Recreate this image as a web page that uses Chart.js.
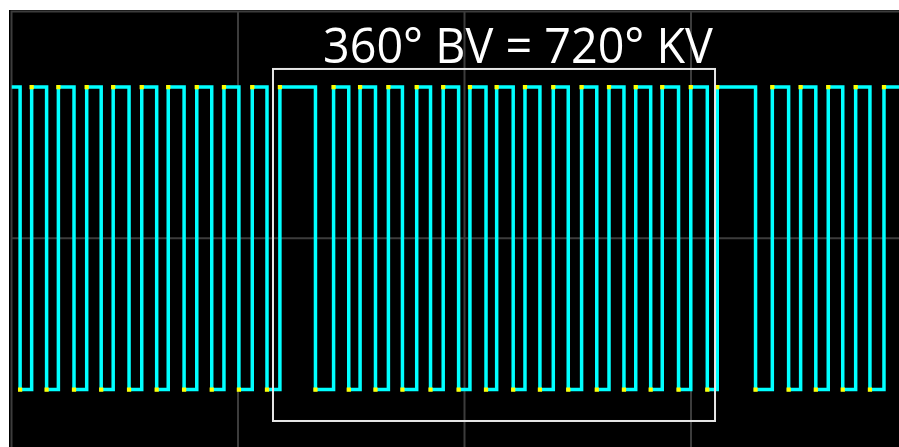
<!DOCTYPE html>
<html>
<head>
<meta charset="utf-8">
<script src="https://cdn.jsdelivr.net/npm/chart.js@4/dist/chart.umd.min.js"></script>
<style>
  html, body { margin: 0; padding: 0; background: #ffffff; overflow: hidden; }
  #wrap { position: absolute; left: 0; top: 0; width: 899px; height: 447px; }
  canvas { display: block; }
</style>
</head>
<body>
<div id="wrap"><canvas id="c" width="899" height="447"></canvas></div>
<script>
// Edge times (scope time units, 100 per grid division) and signal level after each edge
const edgeTimes = [0, 3.8, 8.9, 15.5, 20.7, 27.6, 33.2, 39.6, 44.9, 51.9,
  57.5, 64.1, 69.2, 76.2, 81.8, 88.4, 93.8, 100.4, 106.3, 112.8,
  118.5, 134.2, 142.2, 148.9, 153.9, 160.7, 166.4, 172.6, 178.9, 185.0,
  190.6, 197.4, 202.4, 209.5, 214.2, 221.5, 226.7, 233.3, 239.2, 245.8,
  251.7, 258.4, 263.8, 270.4, 275.6, 282.2, 287.3, 294.5, 299.9, 307.2,
  311.6, 328.5, 335.9, 343.1, 348.4, 355.1, 360.6, 367.0, 372.7, 379.0,
  385.2, 393];
const edgeLevels = [1, 0, 1, 0, 1, 0, 1, 0, 1, 0,
  1, 0, 1, 0, 1, 0, 1, 0, 1, 0,
  1, 0, 1, 0, 1, 0, 1, 0, 1, 0,
  1, 0, 1, 0, 1, 0, 1, 0, 1, 0,
  1, 0, 1, 0, 1, 0, 1, 0, 1, 0,
  1, 0, 1, 0, 1, 0, 1, 0, 1, 0,
  1, 1];
// Axis ranges and grid ticks
const xRange = [0, 391.83];
const yRange = [-0.19, 1.25];
const xGridTicks = [0, 100, 200, 300];
const yGridTicks = [0.5, 1.25];
// Marked window (one camshaft revolution) and its label
const windowX = [115.45, 310.6];
const windowY = [-0.104, 1.06];
const windowLabel = "360° BV = 720° KV";
const labelAt = [223.6, 1.0797];

const points = edgeTimes.map((t, i) => ({ x: t, y: edgeLevels[i] }));

const scopePlugin = {
  id: 'scope',
  beforeDraw(chart) {
    const ctx = chart.ctx;
    ctx.save();
    ctx.fillStyle = '#000000';
    ctx.fillRect(9, 10, chart.width - 9, chart.height - 10);
    ctx.restore();
  },
  beforeDatasetsDraw(chart) {
    const ctx = chart.ctx;
    const xs = chart.scales.x, ys = chart.scales.y;
    const a = chart.chartArea;
    ctx.save();
    ctx.strokeStyle = '#3c3c3c';
    ctx.lineWidth = 2;
    ctx.beginPath();
    xGridTicks.forEach(v => {
      const px = xs.getPixelForValue(v);
      ctx.moveTo(px, a.top - 1);
      ctx.lineTo(px, a.bottom);
    });
    yGridTicks.forEach(v => {
      const py = ys.getPixelForValue(v);
      ctx.moveTo(a.left - 1, py);
      ctx.lineTo(a.right, py);
    });
    ctx.stroke();
    ctx.restore();
  },
  afterDatasetsDraw(chart) {
    const ctx = chart.ctx;
    const xs = chart.scales.x, ys = chart.scales.y;
    const x1 = xs.getPixelForValue(windowX[0]);
    const x2 = xs.getPixelForValue(windowX[1]);
    const y1 = ys.getPixelForValue(windowY[1]);
    const y2 = ys.getPixelForValue(windowY[0]);
    ctx.save();
    ctx.strokeStyle = '#e6e6e6';
    ctx.lineWidth = 2;
    ctx.strokeRect(x1, y1, x2 - x1, y2 - y1);
    // label
    const lx = xs.getPixelForValue(labelAt[0]);
    const ly = ys.getPixelForValue(labelAt[1]);
    ctx.font = '49px "Open Sans"';
    ctx.fillStyle = '#ffffff';
    ctx.textBaseline = 'alphabetic';
    ctx.textAlign = 'center';
    const w = ctx.measureText(windowLabel).width;
    const target = 390;
    ctx.translate(lx, ly);
    ctx.scale(target / w, 1);
    ctx.fillText(windowLabel, 0, 0);
    ctx.restore();
  }
};

new Chart(document.getElementById('c'), {
  type: 'line',
  data: {
    datasets: [{
      data: points,
      stepped: true,
      borderColor: '#00ffff',
      borderWidth: 3.5,
      pointStyle: 'rect',
      pointRadius: ctx => ctx.dataIndex === 0 ? 0 : 3,
      pointBackgroundColor: '#ffff00',
      pointBorderWidth: 0,
      pointHoverRadius: 0,
      fill: false,
      tension: 0
    }]
  },
  options: {
    responsive: false,
    animation: false,
    events: [],
    layout: { autoPadding: false, padding: { left: 11.5, top: 11.5, right: 0, bottom: 0 } },
    plugins: { legend: { display: false }, tooltip: { enabled: false } },
    scales: {
      x: { type: 'linear', display: false, min: xRange[0], max: xRange[1] },
      y: { type: 'linear', display: false, min: yRange[0], max: yRange[1] }
    }
  },
  plugins: [scopePlugin]
});
</script>
</body>
</html>
